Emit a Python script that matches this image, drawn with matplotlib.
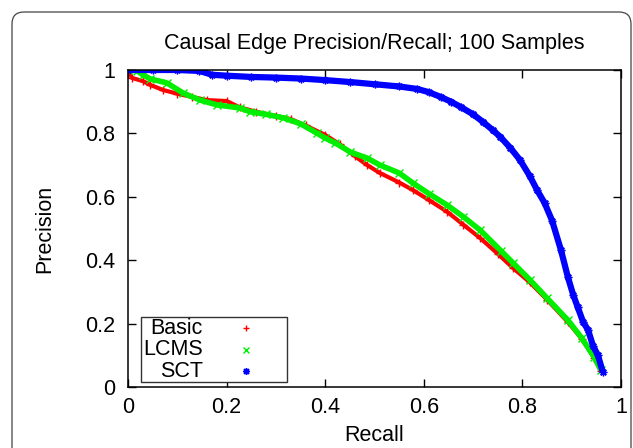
import numpy as np
import matplotlib.pyplot as plt
from matplotlib.patches import FancyBboxPatch, Rectangle

plt.rcParams['font.family'] = ['Liberation Sans', 'DejaVu Sans']

# recall / precision
basic_recall = [0.0, 0.008, 0.03, 0.045, 0.071, 0.10, 0.13, 0.16, 0.20, 0.227, 0.26, 0.30, 0.33,
                0.36, 0.40, 0.43, 0.46, 0.485, 0.511, 0.55, 0.578, 0.61, 0.647, 0.68, 0.714,
                0.75, 0.781, 0.815, 0.85, 0.892, 0.92, 0.945, 0.959]
basic_precision = [1.0, 0.975, 0.965, 0.953, 0.937, 0.925, 0.915, 0.905, 0.902, 0.882, 0.868, 0.855, 0.845,
                   0.825, 0.795, 0.765, 0.728, 0.70, 0.675, 0.645, 0.621, 0.59, 0.553, 0.512, 0.47,
                   0.42, 0.375, 0.33, 0.275, 0.205, 0.152, 0.093, 0.05]

lcms_recall = [0.0, 0.018, 0.03, 0.045, 0.079, 0.112, 0.146, 0.18, 0.227, 0.248, 0.28, 0.315, 0.35,
               0.384, 0.40, 0.42, 0.451, 0.485, 0.511, 0.55, 0.578, 0.61, 0.647, 0.68, 0.714,
               0.756, 0.781, 0.815, 0.85, 0.892, 0.92, 0.945, 0.959]
lcms_precision = [1.0, 0.998, 0.985, 0.972, 0.959, 0.927, 0.905, 0.89, 0.88, 0.868, 0.86, 0.849, 0.83,
                  0.80, 0.785, 0.77, 0.741, 0.722, 0.70, 0.675, 0.643, 0.61, 0.574, 0.537, 0.495,
                  0.43, 0.391, 0.338, 0.28, 0.211, 0.155, 0.095, 0.054]

sct_recall = [0.0, 0.05, 0.10, 0.145, 0.17, 0.20, 0.25, 0.30, 0.35, 0.40, 0.45, 0.50, 0.55, 0.587,
              0.61, 0.634, 0.655, 0.675, 0.70, 0.72, 0.74, 0.755, 0.775, 0.795, 0.815, 0.83,
              0.845, 0.86, 0.878, 0.892, 0.903, 0.912, 0.923, 0.933, 0.943, 0.953, 0.963]
sct_precision = [1.0, 1.0, 1.0, 0.997, 0.985, 0.982, 0.978, 0.976, 0.973, 0.968, 0.962, 0.955, 0.948, 0.94,
                 0.93, 0.915, 0.90, 0.883, 0.86, 0.836, 0.81, 0.789, 0.755, 0.716, 0.665, 0.62,
                 0.58, 0.525, 0.432, 0.347, 0.29, 0.252, 0.205, 0.18, 0.13, 0.10, 0.047]

names = ['Basic', 'LCMS', 'SCT']
colors = ['#ff0000', '#00ee00', '#0000ff']
markers = ['+', 'x', (8, 2, 0)]
series = [(basic_recall, basic_precision), (lcms_recall, lcms_precision), (sct_recall, sct_precision)]
widths = [3.0, 4.0, 4.5]

fig = plt.figure(figsize=(6.33, 4.48), dpi=100)
ax = fig.add_axes([0.2022, 0.1362, 0.779, 0.7076])

for (r, p), c, m, w in zip(series, colors, markers, widths):
    ax.plot(r, p, color=c, lw=w, solid_capstyle='butt')
    ax.plot(r, p, ls='none', marker=m, color=c, ms=5.5, mew=1.0)

ax.set_xlim(0, 1)
ax.set_ylim(0, 1)
ticks = [0, 0.2, 0.4, 0.6, 0.8, 1]
ticklabels = ['0', '0.2', '0.4', '0.6', '0.8', '1']
ax.set_xticks(ticks)
ax.set_xticklabels(ticklabels)
ax.set_yticks(ticks)
ax.set_yticklabels(ticklabels)
ax.tick_params(direction='in', top=True, right=True, length=6, width=1, labelsize=15.5)
ax.tick_params(axis='x', pad=7)
ax.tick_params(axis='y', pad=9)
for s in ax.spines.values():
    s.set_linewidth(1.1)

ax.set_title('Causal Edge Precision/Recall; 100 Samples', fontsize=15.5, pad=15)
ax.set_xlabel('Recall', fontsize=15.5, labelpad=5)
ax.set_ylabel('Precision', fontsize=15.5, labelpad=22)

# gnuplot style key, bottom left
ax.add_patch(Rectangle((0.026, 0.016), 0.2965, 0.205, transform=ax.transAxes,
                       fill=True, facecolor='white', edgecolor='#333333', lw=1, zorder=5))
rows = [0.186, 0.117, 0.05]
for name, c, m, yy in zip(names, colors, markers, rows):
    ax.text(0.152, yy, name, transform=ax.transAxes, ha='right', va='center', fontsize=15.5, zorder=6)
    ax.plot([0.239], [yy], transform=ax.transAxes, marker=m, color=c, ms=5, mew=1, ls='none', zorder=6)

# rounded frame around the whole figure
frame = FancyBboxPatch((0.12, -0.5), 6.19, 4.86, boxstyle='round,pad=0,rounding_size=0.12',
                       transform=fig.dpi_scale_trans, fill=False, edgecolor='#444444', lw=0.9)
fig.patches.append(frame)

fig.savefig('out.png', dpi=100)
